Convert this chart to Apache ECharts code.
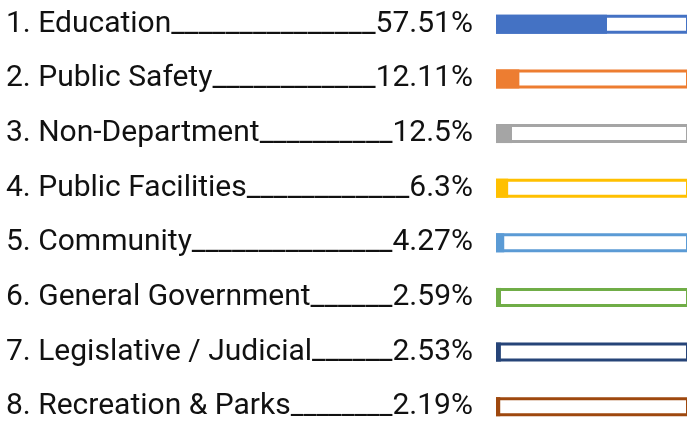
<!DOCTYPE html>
<html>
<head>
<meta charset="utf-8">
<script src="https://cdn.jsdelivr.net/npm/echarts@6/dist/echarts.min.js"></script>
<style>
  html, body { margin: 0; padding: 0; background: #fff; overflow: hidden; }
  body { position: relative; width: 687px; height: 421px; }
  /* chart is a bit larger than the window: the bars run off the right edge */
  #chart { position: absolute; left: 0; top: -3px; width: 692px; height: 437px; }
</style>
</head>
<body>
<div id="chart"></div>
<script>
const categories = [
  "1. Education",
  "2. Public Safety",
  "3. Non-Department",
  "4. Public Facilities",
  "5. Community",
  "6. General Government",
  "7. Legislative / Judicial",
  "8. Recreation & Parks",
];
const shares = [57.51, 12.11, 12.5, 6.3, 4.27, 2.59, 2.53, 2.19];
// bar lengths as drawn (the Non-Department bar is shorter than its label says)
const barValues = [57.51, 12.11, 8.3, 6.3, 4.27, 2.59, 2.53, 2.19];
const barColors = ["#4472c4", "#ed7d31", "#a5a5a5", "#ffc000", "#5b9bd5", "#70ad47", "#264478", "#9e480e"];

const fontFamily = "Roboto";
const fontSize = 30;
const labelLeft = 6;
const labelRight = 473;
const gridLeft = 496;

const ctx = document.createElement("canvas").getContext("2d");
function textWidth(text, size) {
  ctx.font = `${size}px ${fontFamily}`;
  return ctx.measureText(text).width;
}

// fill the gap between name and share with underscores, sized to fit exactly
const rich = {
  n: { fontSize, fontFamily, color: "#111" },
  p: { fontSize, fontFamily, color: "#111" },
};
const labelText = categories.map((name, i) => {
  const pct = `${shares[i]}%`;
  const gap = labelRight - labelLeft - textWidth(name, fontSize) - textWidth(pct, fontSize);
  const uw = textWidth("_", fontSize);
  const count = Math.max(1, Math.round(gap / uw));
  rich[`u${i}`] = { fontSize: (fontSize * gap) / (count * uw), fontFamily, color: "#111" };
  return `{n|${name}}{u${i}|${"_".repeat(count)}}{p|${pct}}`;
});

const chart = echarts.init(document.getElementById("chart"), null, { renderer: "canvas" });
chart.setOption({
  animation: false,
  grid: { left: gridLeft, right: 3, top: 0, bottom: 0 },
  xAxis: { type: "value", min: 0, max: 100, show: false },
  yAxis: {
    type: "category",
    inverse: true,
    data: categories,
    axisLine: { show: false },
    axisTick: { show: false },
    axisLabel: {
      align: "left",
      margin: gridLeft - labelLeft,
      formatter: (value, index) => labelText[index],
      rich,
    },
  },
  series: [
    {
      type: "bar",
      barWidth: 19,
      silent: true,
      data: barValues.map((v, i) => ({
        value: 100,
        itemStyle: { color: "#fff", borderColor: barColors[i], borderWidth: 3 },
      })),
    },
    {
      type: "bar",
      barWidth: 19,
      barGap: "-100%",
      data: barValues.map((v, i) => ({ value: v, itemStyle: { color: barColors[i] } })),
    },
  ],
});
</script>
</body>
</html>
